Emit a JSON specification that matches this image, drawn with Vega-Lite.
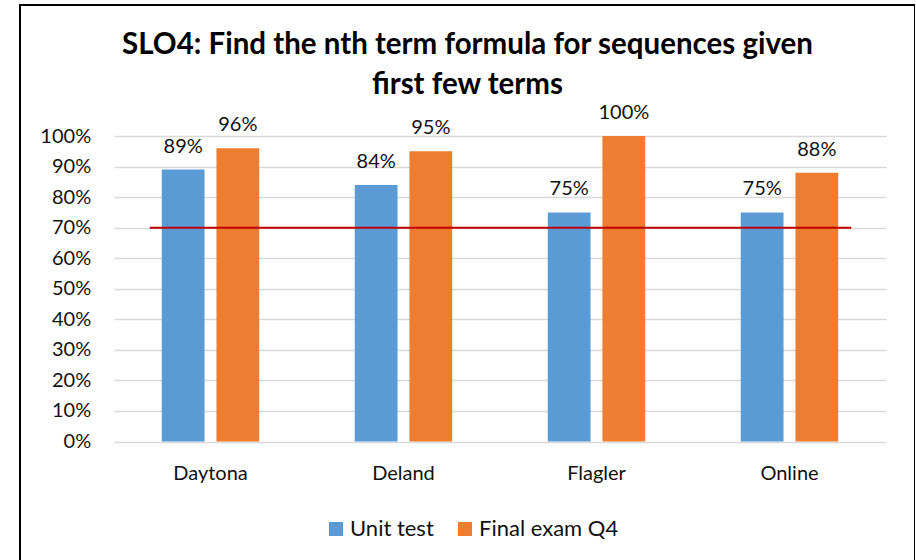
{
  "$schema": "https://vega.github.io/schema/vega-lite/v6.json",
  "width": 895,
  "height": 565,
  "padding": {"left": 20, "top": 5, "right": 0, "bottom": 0},
  "autosize": {"type": "none"},
  "background": "white",
  "config": {
    "font": "Lato",
    "view": {"stroke": "black", "strokeWidth": 2},
    "axis": {"labelFont": "Lato", "labelFontSize": 20, "labelColor": "#111111", "domain": false, "ticks": false, "title": null}
  },
  "title": {
    "text": ["SLO4: Find the nth term formula for sequences given", "first few terms"],
    "font": "Lato",
    "fontSize": 29.5,
    "fontWeight": "bold",
    "color": "#000000",
    "anchor": "middle",
    "frame": "group",
    "baseline": "top",
    "lineHeight": 40,
    "offset": -95
  },
  "datasets": {
    "scores": [
      {"site": "Daytona", "series": "Unit test", "score": 0.89},
      {"site": "Daytona", "series": "Final exam Q4", "score": 0.96},
      {"site": "Deland", "series": "Unit test", "score": 0.84},
      {"site": "Deland", "series": "Final exam Q4", "score": 0.95},
      {"site": "Flagler", "series": "Unit test", "score": 0.75},
      {"site": "Flagler", "series": "Final exam Q4", "score": 1.0},
      {"site": "Online", "series": "Unit test", "score": 0.75},
      {"site": "Online", "series": "Final exam Q4", "score": 0.88}
    ],
    "target": [
      {"from": "Daytona", "to": "Online", "target": 0.7}
    ]
  },
  "layer": [
    {
      "data": {"name": "scores"},
      "mark": {"type": "bar"},
      "encoding": {
        "x": {
          "field": "site", "type": "nominal",
          "sort": ["Daytona", "Deland", "Flagler", "Online"],
          "scale": {"range": [94, 866], "paddingInner": 0.495, "paddingOuter": 0.2475},
          "axis": {"orient": "bottom", "offset": -128.5, "labelPadding": 22, "labelAngle": 0, "grid": false}
        },
        "xOffset": {
          "field": "series", "type": "nominal",
          "sort": ["Unit test", "Final exam Q4"],
          "scale": {"paddingInner": 0.218}
        },
        "y": {
          "field": "score", "type": "quantitative",
          "scale": {"domain": [-0.42062, 1.42881], "nice": false, "zero": false},
          "axis": {
            "values": [0, 0.1, 0.2, 0.3, 0.4, 0.5, 0.6, 0.7, 0.8, 0.9, 1.0],
            "format": ".0%",
            "labelPadding": -70.7,
            "grid": true,
            "gridColor": "#d9d9d9",
            "gridWidth": 1.5
          }
        },
        "color": {
          "field": "series", "type": "nominal",
          "sort": ["Unit test", "Final exam Q4"],
          "scale": {"domain": ["Unit test", "Final exam Q4"], "range": ["#5b9bd5", "#ed7d31"]},
          "legend": {
            "orient": "none", "legendX": 305, "legendY": 513,
            "direction": "horizontal", "title": null,
            "symbolType": "square", "symbolSize": 196, "symbolStrokeWidth": 0,
            "labelFont": "Lato", "labelFontSize": 22, "labelColor": "#111111",
            "labelOffset": 3, "columnPadding": 20, "padding": 0
          }
        }
      }
    },
    {
      "data": {"name": "scores"},
      "mark": {"type": "text", "baseline": "alphabetic", "dy": -17, "fontSize": 20, "font": "Lato", "color": "#111111"},
      "encoding": {
        "x": {"field": "site", "type": "nominal", "sort": ["Daytona", "Deland", "Flagler", "Online"]},
        "xOffset": {"field": "series", "type": "nominal", "sort": ["Unit test", "Final exam Q4"]},
        "y": {"field": "score", "type": "quantitative"},
        "text": {"field": "score", "type": "quantitative", "format": ".0%"}
      }
    },
    {
      "data": {"name": "target"},
      "mark": {"type": "rule", "color": "#c00000", "strokeWidth": 2, "xOffset": -12, "x2Offset": 13},
      "encoding": {
        "x": {"field": "from", "type": "nominal", "sort": ["Daytona", "Deland", "Flagler", "Online"], "bandPosition": 0},
        "x2": {"field": "to", "bandPosition": 1},
        "y": {"field": "target", "type": "quantitative"}
      }
    }
  ]
}
